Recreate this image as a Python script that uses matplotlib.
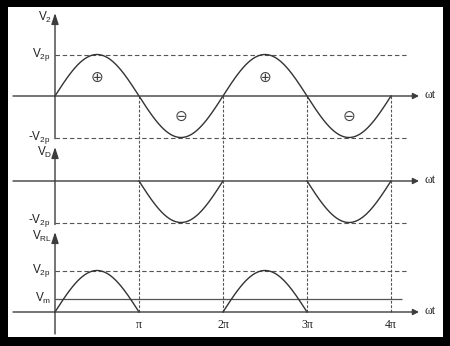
import numpy as np
import matplotlib.pyplot as plt

# values: amplitudes in units of V2p, angles in units of pi
v2p = 1.0
vm = 0.32
cycle_end = 4                       # two full periods, 0..4pi
pos_halves = [(0, 1), (2, 3)]       # diode conducts -> load voltage
neg_halves = [(1, 2), (3, 4)]       # diode blocks -> diode voltage
tick_pos = [1, 2, 3, 4]
tick_labels = ['π', '2π', '3π', '4π']
plus_at = [0.5, 2.5]
minus_at = [1.5, 3.5]

# ── layout (pixel geometry of the 450x346 picture) ──────────────────────────
W, H = 450, 346
X0, PI_PX, UNIT_PX = 55, 84, 41.5
BOX = (8, 7, 443, 337)              # white area: left, top, right, bottom


def px_x(p):
    return (p - X0) / PI_PX * np.pi


def px_y(p):
    return (BOX[3] - p) / UNIT_PX


base_top, base_mid, base_bot = px_y(96), px_y(181), px_y(312)

plt.rcParams['font.family'] = ['Liberation Sans', 'DejaVu Sans']
fig = plt.figure(figsize=(W / 100, H / 100), dpi=100, facecolor='black')
ax = fig.add_axes([BOX[0] / W, 1 - BOX[3] / H, (BOX[2] - BOX[0]) / W, (BOX[3] - BOX[1]) / H])
ax.set_facecolor('white')
ax.set_xlim(px_x(BOX[0]), px_x(BOX[2]))
ax.set_ylim(0, px_y(BOX[1]))
ax.set_xticks([])
ax.set_yticks([])
for sp in ax.spines.values():
    sp.set_visible(False)

curve_c, axis_c, dash_c = '#333333', '#3c3c3c', '#555555'
dash = dict(color=dash_c, lw=0.8, ls=(0, (4, 2.5)))
vdash = dict(color=dash_c, lw=0.8, ls=(0, (2.5, 1.5)))

# ── horizontal axes with arrows ─────────────────────────────────────────────
for base in (base_top, base_mid, base_bot):
    ax.annotate('', xy=(px_x(419), base), xytext=(px_x(13), base),
                arrowprops=dict(arrowstyle='-|>', color=axis_c, lw=1.0,
                                mutation_scale=9, shrinkA=0, shrinkB=0))
    ax.text(px_x(424), base + 0.02, 'ωt', family='Liberation Serif', fontsize=8.5,
            ha='left', va='center', color='#222')

# ── vertical axes ───────────────────────────────────────────────────────────
for y_lo, y_hi in [(base_top - 1.03 * v2p, px_y(13)),
                   (base_mid - 1.05 * v2p, px_y(147)),
                   (px_y(334), px_y(232))]:
    ax.annotate('', xy=(0, y_hi), xytext=(0, y_lo),
                arrowprops=dict(arrowstyle='-|>,head_length=0.55,head_width=0.18',
                                color=axis_c, lw=1.0, mutation_scale=12,
                                shrinkA=0, shrinkB=0))

# ── reference levels ────────────────────────────────────────────────────────
ax.hlines([base_top + v2p, base_top - v2p, base_mid - v2p, base_bot + v2p],
          0, px_x(408), **dash)
ax.hlines(base_bot + vm, 0, px_x(402), color='#555', lw=0.9)
ax.vlines(np.array(tick_pos) * np.pi, base_bot, base_top, **vdash)

# ── waveforms ───────────────────────────────────────────────────────────────
t = np.linspace(0, cycle_end * np.pi, 800)
ax.plot(t, base_top + v2p * np.sin(t), color=curve_c, lw=1.0)
for a, b in neg_halves:
    tt = np.linspace(a * np.pi, b * np.pi, 200)
    ax.plot(tt, base_mid + v2p * np.sin(tt), color=curve_c, lw=1.0)
for a, b in pos_halves:
    tt = np.linspace(a * np.pi, b * np.pi, 200)
    ax.plot(tt, base_bot + v2p * np.sin(tt), color=curve_c, lw=1.0)

for p in plus_at:
    ax.text(p * np.pi, base_top + 0.46 * v2p, '⊕', family='DejaVu Sans',
            fontsize=11, ha='center', va='center', color='#444')
for p in minus_at:
    ax.text(p * np.pi, base_top - 0.5 * v2p, '⊖', family='DejaVu Sans',
            fontsize=11, ha='center', va='center', color='#444')

# ── labels ──────────────────────────────────────────────────────────────────
lab_x = px_x(51)
lab = dict(fontsize=8.5, ha='right', va='center', color='#222')
ax.text(px_x(52), px_y(17), r'$\mathregular{V_2}$', **lab)
ax.text(lab_x, base_top + v2p, r'$\mathregular{V_{2p}}$', **lab)
ax.text(lab_x, base_top - v2p, r'-$\mathregular{V_{2p}}$', **lab)
ax.text(px_x(52), px_y(152), r'$\mathregular{V_D}$', **lab)
ax.text(lab_x, base_mid - v2p + 0.04, r'-$\mathregular{V_{2p}}$', **lab)
ax.text(px_x(52), px_y(236), r'$\mathregular{V_{RL}}$', **lab)
ax.text(lab_x, base_bot + v2p, r'$\mathregular{V_{2p}}$', **lab)
ax.text(lab_x, base_bot + vm, r'$\mathregular{V_m}$', **lab)

for p, s in zip(tick_pos, tick_labels):
    ax.text(p * np.pi, px_y(325), s, family='Liberation Serif', fontsize=8.5,
            ha='center', va='center', color='#222')

fig.savefig('out.png', dpi=100, facecolor='black')
